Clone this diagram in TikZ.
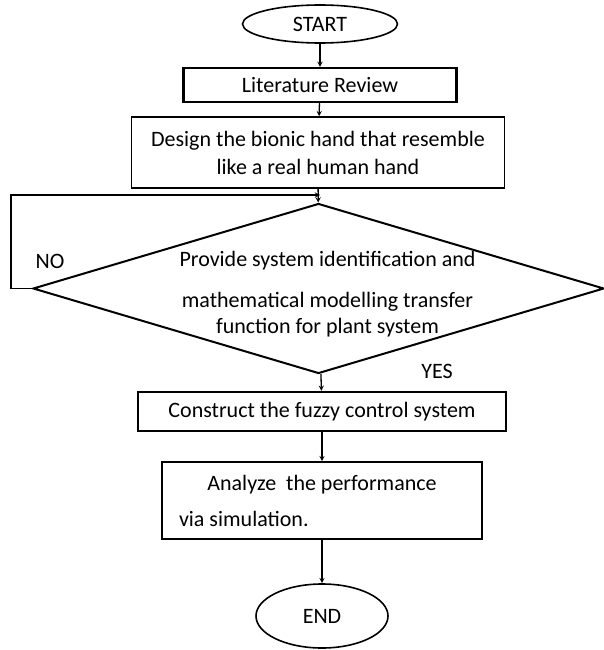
\documentclass[tikz,border=0pt]{standalone}
\usepackage{fontspec}
\setmainfont{Carlito}
\usepackage{tikz}
\usetikzlibrary{arrows,shapes,positioning}
\tikzstyle{arrow} = [line width=1.3pt,->,>=stealth]
\tikzstyle{terminal} = [ellipse, draw, line width=1.6pt, inner sep=1pt]
\tikzstyle{process} = [rectangle, draw, line width=1.6pt]
\tikzstyle{decision} = [diamond, draw, line width=2pt, inner sep=0pt, minimum width=571, minimum height=170]

\begin{document}
\begin{tikzpicture}[x=1pt, y=-1pt, font=\fontsize{22}{26}\selectfont]
\useasboundingbox (0,0) rectangle (603,650);

% Nodes
\node[terminal, minimum width=155, minimum height=38] (start) at (320,24) {START};
\node[process, line width=2.4pt, minimum width=273, minimum height=34] (lit) at (320,85) {Literature Review};
\node[process, minimum width=373, minimum height=71, align=center] (design) at (318,152.5) {Design the bionic hand that resemble\\[2pt]like a real human hand};
\node[decision, label={[align=center, xshift=9pt, yshift=-6pt]center:{Provide system identification and\\[15pt]mathematical modelling transfer\\function for plant system}}] (ident) at (318.5,288.5) {};
\node[process, line width=2.4pt, minimum width=368, minimum height=39] (fuzzy) at (322,411.5) {Construct the fuzzy control system};
\node[process, minimum width=320, minimum height=77, inner xsep=17pt, align=left] (perf) at (322,500.5) {\makebox[286pt][c]{Analyze\ \ the performance}\\[10pt]via simulation.};
\node[terminal, minimum width=132, minimum height=64] (end) at (322,616) {END};

% Labels
\node (no) at (50,261) {NO};
\node (yes) at (437,371) {YES};

% Connectors
\coordinate (join) at (320,195);
\draw[arrow] (start) -- (lit);
\draw[arrow] (lit) -- (design);
\draw[arrow] (design) -- (ident);
\draw[arrow] (ident.west) -- ++(-21,0) |- (join);
\draw[arrow] (ident) -- (fuzzy);
\draw[arrow] (fuzzy) -- (perf);
\draw[arrow] (perf) -- (end);
\end{tikzpicture}
\end{document}
